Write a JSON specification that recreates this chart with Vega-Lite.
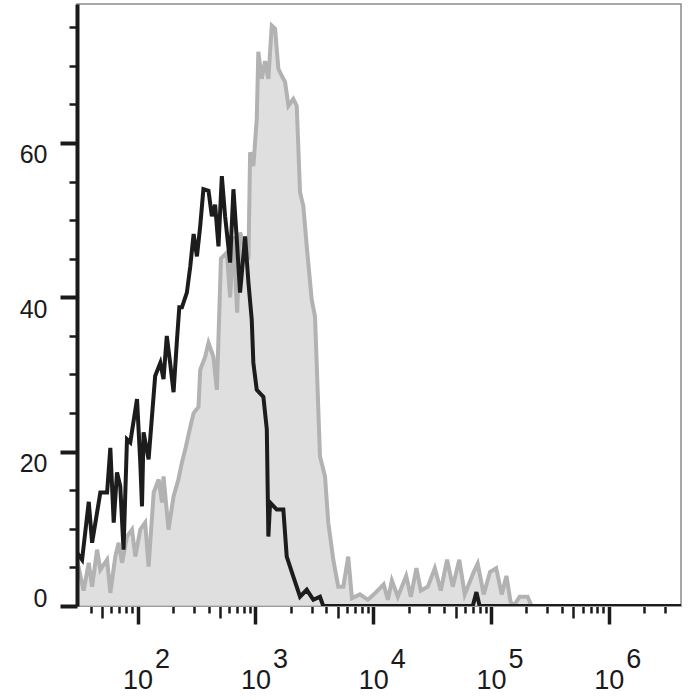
{
  "$schema": "https://vega.github.io/schema/vega-lite/v6.json",
  "width": 604,
  "height": 602,
  "autosize": "none",
  "padding": {"left": 77, "top": 4, "right": 19, "bottom": 94},
  "background": "white",
  "config": {
    "view": {"stroke": "#8a8a8a", "strokeWidth": 1.5},
    "font": "Liberation Sans"
  },
  "datasets": {
    "gray": [
      {"x":30.6,"count":6},{"x":34.8,"count":2},{"x":38.5,"count":5.6},{"x":41.1,"count":2.5},{"x":45.3,"count":7.3},{"x":48.3,"count":4.7},{"x":55.1,"count":6},{"x":58.7,"count":1.7},{"x":64.7,"count":6.4},{"x":69,"count":8.2},{"x":73.8,"count":5.6},{"x":81.3,"count":9},{"x":89.7,"count":9.9},{"x":95.7,"count":6.4},{"x":105.4,"count":9.9},{"x":116,"count":10.8},{"x":124,"count":5.1},{"x":137,"count":14.7},{"x":151,"count":16.4},{"x":161,"count":13.4},{"x":166,"count":16.8},{"x":183,"count":9.9},{"x":202,"count":14.2},{"x":222,"count":16.4},{"x":238,"count":18.6},{"x":254,"count":20.3},{"x":280,"count":23.2},{"x":299,"count":25},{"x":329,"count":25.8},{"x":340,"count":30.6},{"x":375,"count":32.3},{"x":400,"count":34.1},{"x":440,"count":32.3},{"x":471,"count":28},{"x":510,"count":45},{"x":573,"count":45.8},{"x":610,"count":40},{"x":651,"count":47.9},{"x":700,"count":38},{"x":741,"count":48.4},{"x":873,"count":44.9},{"x":902,"count":58.8},{"x":961,"count":57},{"x":1027,"count":63.1},{"x":1059,"count":71.8},{"x":1132,"count":68.3},{"x":1208,"count":70.6},{"x":1289,"count":68.3},{"x":1377,"count":75.2},{"x":1469,"count":74.8},{"x":1567,"count":69.6},{"x":1674,"count":68.7},{"x":1786,"count":67.9},{"x":1906,"count":64.8},{"x":2099,"count":65.7},{"x":2244,"count":64.8},{"x":2393,"count":53.6},{"x":2553,"count":51.8},{"x":2729,"count":46.6},{"x":3006,"count":39.7},{"x":3206,"count":37.5},{"x":3313,"count":31.5},{"x":3533,"count":19.4},{"x":3898,"count":16.8},{"x":4157,"count":10.8},{"x":4583,"count":6},{"x":5048,"count":2.5},{"x":5570,"count":2.5},{"x":6139,"count":6.4},{"x":6600,"count":1},{"x":7710,"count":1.5},{"x":9010,"count":0.8},{"x":10440,"count":1.7},{"x":12270,"count":2.8},{"x":13330,"count":0.8},{"x":14400,"count":3.3},{"x":16180,"count":1.2},{"x":19050,"count":3.9},{"x":20890,"count":1.2},{"x":23290,"count":4.9},{"x":25360,"count":2},{"x":29100,"count":2.5},{"x":33350,"count":4.9},{"x":37500,"count":2},{"x":42400,"count":6},{"x":47350,"count":2.5},{"x":53830,"count":6},{"x":59840,"count":1.5},{"x":71300,"count":4.4},{"x":77100,"count":5.5},{"x":86700,"count":1.5},{"x":98100,"count":4.4},{"x":110700,"count":4.9},{"x":123300,"count":1.5},{"x":135200,"count":3.9},{"x":146300,"count":0.6},{"x":155700,"count":0},{"x":175000,"count":1.2},{"x":204600,"count":1.2},{"x":221200,"count":0},{"x":4100000,"count":0}
    ],
    "black": [
      {"x":30.6,"count":6.9},{"x":33.8,"count":6},{"x":38.5,"count":13.5},{"x":41.1,"count":8.2},{"x":48.3,"count":14.7},{"x":55.1,"count":14.7},{"x":58.7,"count":20.5},{"x":62.7,"count":10.8},{"x":66.9,"count":17.3},{"x":71.3,"count":15.5},{"x":76,"count":7.3},{"x":81.3,"count":21.6},{"x":86.7,"count":21.2},{"x":98.9,"count":26.8},{"x":105.4,"count":18.6},{"x":109,"count":12.9},{"x":112.4,"count":22.5},{"x":124,"count":19},{"x":141,"count":29.8},{"x":156,"count":31.5},{"x":166,"count":29.4},{"x":177,"count":35},{"x":189,"count":31.5},{"x":202,"count":27.7},{"x":216,"count":34.5},{"x":226,"count":38.7},{"x":238,"count":38.7},{"x":262,"count":40.6},{"x":280,"count":44},{"x":299,"count":48.2},{"x":319,"count":45.3},{"x":340,"count":49.2},{"x":362,"count":54},{"x":400,"count":53.8},{"x":427,"count":50.5},{"x":455,"count":52},{"x":486,"count":46.6},{"x":519,"count":55.7},{"x":553,"count":50.5},{"x":610,"count":44.5},{"x":651,"count":54},{"x":695,"count":47.5},{"x":741,"count":40.6},{"x":818,"count":47.9},{"x":873,"count":41.9},{"x":931,"count":37.1},{"x":961,"count":31.5},{"x":1027,"count":28},{"x":1169,"count":27.1},{"x":1250,"count":22.9},{"x":1289,"count":9},{"x":1333,"count":13.4},{"x":1518,"count":12.5},{"x":1727,"count":12.5},{"x":1845,"count":6.4},{"x":2099,"count":3.8},{"x":2393,"count":1.2},{"x":2729,"count":2.1},{"x":3105,"count":0.8},{"x":3533,"count":1.2},{"x":3767,"count":0},{"x":70000,"count":0},{"x":75200,"count":1.8},{"x":80000,"count":0},{"x":4100000,"count":0}
    ]
  },
  "encoding": {
    "y": {
      "field": "count",
      "type": "quantitative",
      "scale": {"domain": [0, 78], "nice": false, "zero": true},
      "axis": {
        "title": null,
        "grid": false,
        "zindex": 1,
        "values": [0,5,10,15,20,25,30,35,40,45,50,55,60,65,70,75],
        "labelExpr": "datum.value % 20 == 0 ? datum.label : ''",
        "tickSize": {"condition": {"test": "datum.value % 20 == 0", "value": 17}, "value": 8},
        "tickWidth": {"condition": {"test": "datum.value % 20 == 0", "value": 4}, "value": 2.5},
        "tickColor": "#1a1a1a",
        "domainColor": "#1a1a1a",
        "domainWidth": 4,
        "labelFont": "Liberation Sans",
        "labelFontSize": 25,
        "labelColor": "#1a1a1a",
        "labelPadding": 13,
        "labelBaseline": {"condition": {"test": "datum.value == 0", "value": "alphabetic"}, "value": "top"},
        "labelOverlap": false,
        "labelFlush": false,
        "labelBound": false
      }
    }
  },
  "layer": [
    {
      "data": {"name": "gray"},
      "mark": {"type": "area", "color": "#d2d2d2", "line": {"color": "#b2b2b2", "strokeWidth": 4}, "clip": true},
      "encoding": {
        "x": {
          "field": "x",
          "type": "quantitative",
          "scale": {"type": "log", "domain": [30.6, 4100000], "nice": false},
          "axis": {
            "orient": "bottom",
            "title": null,
            "grid": false,
            "values": [40,50,60,70,80,90,100,200,300,400,500,600,700,800,900,1000,2000,3000,4000,5000,6000,7000,8000,9000,10000,20000,30000,40000,50000,60000,70000,80000,90000,100000,200000,300000,400000,500000,600000,700000,800000,900000,1000000,2000000,3000000],
            "labelExpr": "abs(log(datum.value)/LN10 - round(log(datum.value)/LN10)) < 0.01 ? '10' : ''",
            "tickSize": {"expr": "abs(log(datum.value)/LN10 - round(log(datum.value)/LN10)) < 0.01 ? 18 : (abs(datum.value / pow(10, floor(log(datum.value)/LN10 + 0.000001)) - 5) < 0.01 ? 12 : 7)"},
            "tickWidth": {"condition": {"test": "abs(log(datum.value)/LN10 - round(log(datum.value)/LN10)) < 0.01", "value": 3.5}, "value": 2.5},
            "tickColor": "#1a1a1a",
            "domainColor": "#9a9a9a",
            "domainWidth": 1,
            "labelFont": "Liberation Sans",
            "labelFontSize": 27,
            "labelColor": "#1a1a1a",
            "labelAlign": "center",
            "labelBaseline": "alphabetic",
            "labelPadding": 64,
            "labelOverlap": false,
            "labelFlush": false,
            "labelBound": false
          }
        }
      }
    },
    {
      "data": {"name": "black"},
      "mark": {"type": "line", "color": "#1c1c1c", "strokeWidth": 4, "clip": true},
      "encoding": {
        "x": {
          "field": "x",
          "type": "quantitative",
          "axis": {
            "orient": "bottom",
            "title": null,
            "grid": false,
            "ticks": false,
            "tickSize": 0,
            "domain": false,
            "values": [100, 1000, 10000, 100000, 1000000],
            "labelExpr": "'' + round(log(datum.value)/LN10)",
            "labelFont": "Liberation Sans",
            "labelFontSize": 27,
            "labelColor": "#1a1a1a",
            "labelAlign": "left",
            "labelOffset": 17,
            "labelBaseline": "alphabetic",
            "labelPadding": 61,
            "labelOverlap": false,
            "labelFlush": false,
            "labelBound": false
          }
        }
      }
    }
  ],
  "resolve": {"axis": {"x": "independent"}}
}
